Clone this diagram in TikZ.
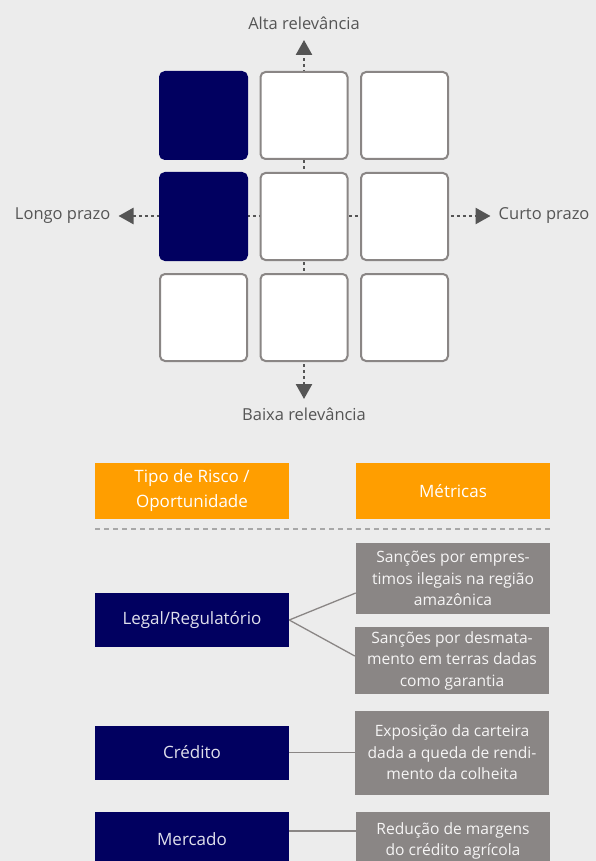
\documentclass[tikz,border=0pt]{standalone}
\usepackage{fontspec}
\setmainfont{Open Sans}
\usetikzlibrary{arrows.meta}

% colours
\definecolor{paper}{HTML}{ECECEC}
\definecolor{navy}{HTML}{010060}
\definecolor{amber}{HTML}{FF9E00}
\definecolor{stone}{HTML}{8A8685}
\definecolor{inkgray}{HTML}{555555}
\definecolor{rulegray}{HTML}{A8A8A8}

\tikzset{
  cell/.style={rectangle, rounded corners=5pt, minimum size=87pt, inner sep=0pt,
    line width=2pt, draw=stone, fill=white},
  hotcell/.style={cell, draw=navy, fill=navy},
  axisline/.style={inkgray, line width=2.5pt, dash pattern=on 3pt off 3pt,
    {Triangle[width=16pt,length=15pt]}-{Triangle[width=16pt,length=15pt]}},
  axislabel/.style={text=inkgray, inner sep=0pt, font=\fontsize{16.5}{20}\selectfont},
  headbox/.style={rectangle, fill=amber, text=white, minimum width=194pt,
    minimum height=56pt, inner sep=0pt, align=center, font=\fontsize{17}{25}\selectfont},
  riskbox/.style={rectangle, fill=navy, text=white!88!navy, minimum width=194pt,
    minimum height=54pt, inner sep=0pt, font=\fontsize{17}{20}\selectfont},
  metricbox/.style={rectangle, fill=stone, text=white!92!stone, minimum width=194pt,
    inner sep=0pt, align=center, font=\fontsize{15.6}{21.5}\selectfont},
  link/.style={stone, line width=1.3pt}
}

\begin{document}
\begin{tikzpicture}[x=1pt, y=-1pt]

    % Page and background
    \useasboundingbox (0, 0) rectangle (596, 861);
    \fill[paper] (0, 0) rectangle (596, 861);
    \clip (0, 0) rectangle (596, 861);

    % Ends of the two axes
    \coordinate (top)    at (304, 40);      % Alta relevancia
    \coordinate (bottom) at (304, 399);     % Baixa relevancia
    \coordinate (left)   at (118.5, 216);   % Longo prazo
    \coordinate (right)  at (490.5, 216);   % Curto prazo

    % Draw the axes first, the cells cover them
    \draw[axisline] (bottom) -- (top);
    \draw[axisline] (left) -- (right);

    % Row 1
    \node[hotcell] (c11) at (203.5, 115.5) {};
    \node[cell]    (c12) at (304, 115.5) {};
    \node[cell]    (c13) at (404.5, 115.5) {};

    % Row 2
    \node[hotcell] (c21) at (203.5, 216.5) {};
    \node[cell]    (c22) at (304, 216.5) {};
    \node[cell]    (c23) at (404.5, 216.5) {};

    % Row 3
    \node[cell]    (c31) at (203.5, 317.5) {};
    \node[cell]    (c32) at (304, 317.5) {};
    \node[cell]    (c33) at (404.5, 317.5) {};

    % Axis labels
    \node[axislabel, above=10pt] (high) at (top) {Alta relevância};
    \node[axislabel, below=9pt] (low) at (bottom) {Baixa relevância};
    \node[axislabel, left=8pt] (long) at (left) {Longo prazo};
    \node[axislabel, right=8pt] (short) at (right) {Curto prazo};

    % Column heads
    \node[headbox] (headrisk)   at (192, 491) {Tipo de Risco /\\Oportunidade};
    \node[headbox] (headmetric) at (453, 491) {Métricas};

    % Separator under the heads
    \coordinate (sepa) at (95, 529);
    \coordinate (sepb) at (550, 529);
    \draw[rulegray, line width=1.5pt, dash pattern=on 5pt off 4pt] (sepa) -- (sepb);

    % Risk types
    \node[riskbox] (legal)  at (192, 620) {Legal/Regulatório};
    \node[riskbox] (credit) at (192, 752.5) {Crédito};
    \node[riskbox] (market) at (192, 839) {Mercado};

    % Metrics
    \node[metricbox, minimum height=71pt] (mone)   at (453, 578.5)
      {Sanções por empres-\\timos ilegais na região\\amazônica};
    \node[metricbox, minimum height=67pt] (mtwo)   at (452, 660.5)
      {Sanções por desmata-\\mento em terras dadas\\como garantia};
    \node[metricbox, minimum height=84pt] (mthree) at (452, 752.5)
      {Exposição da carteira\\dada a queda de rendi-\\mento da colheita};
    \node[metricbox, minimum height=58pt] (mfour)  at (453, 841)
      {Redução de margens\\do crédito agrícola};

    % Links from risk type to metric
    \draw[link] (legal.east) -- ([yshift=-14.5pt]mone.west);
    \draw[link] (legal.east) -- ([yshift=4.5pt]mtwo.west);
    \draw[link] (credit.east) -- (credit.east -| mthree.west);
    \draw[link] ([yshift=8pt]market.east) -- ([yshift=8pt]market.east -| mfour.west);

\end{tikzpicture}
\end{document}
